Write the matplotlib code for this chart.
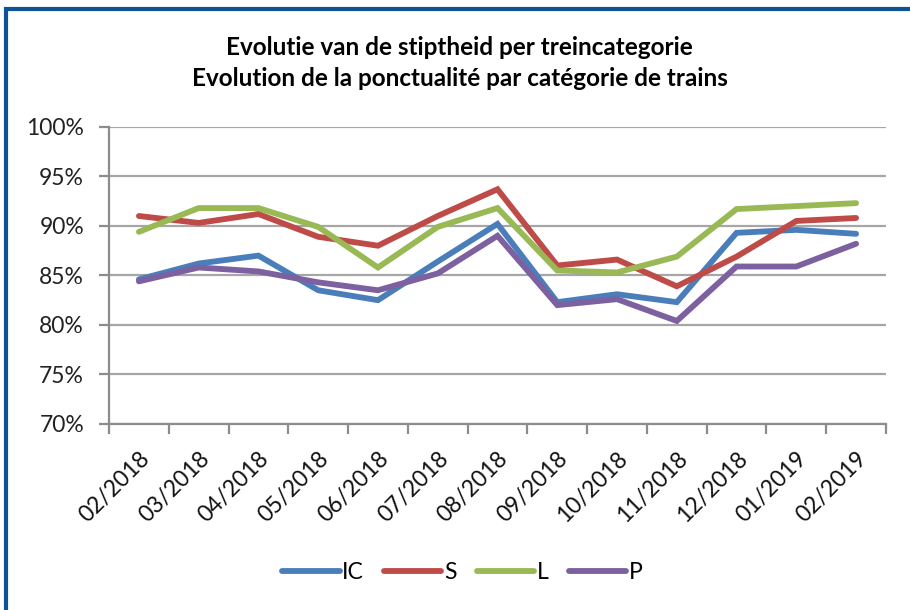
import matplotlib.pyplot as plt
from matplotlib.patches import Rectangle
from matplotlib.ticker import FixedLocator, NullFormatter

months = ['02/2018', '03/2018', '04/2018', '05/2018', '06/2018', '07/2018', '08/2018',
          '09/2018', '10/2018', '11/2018', '12/2018', '01/2019', '02/2019']

ic = [84.6, 86.2, 87.0, 83.5, 82.5, 86.4, 90.2, 82.3, 83.1, 82.3, 89.3, 89.6, 89.2]
s = [91.0, 90.3, 91.2, 88.9, 88.0, 91.0, 93.7, 86.0, 86.6, 83.9, 86.9, 90.5, 90.8]
l = [89.4, 91.8, 91.8, 89.9, 85.8, 89.9, 91.8, 85.5, 85.3, 86.9, 91.7, 92.0, 92.3]
p = [84.4, 85.8, 85.4, 84.3, 83.5, 85.2, 89.0, 82.0, 82.6, 80.4, 85.9, 85.9, 88.2]

series = [('IC', ic, '#4a7ebb'), ('S', s, '#be4b48'), ('L', l, '#98b954'), ('P', p, '#7d60a0')]

plt.rcParams['font.family'] = ['Lato', 'DejaVu Sans']

fig = plt.figure(figsize=(9.1, 6.1), dpi=100)
ax = fig.add_axes([0.1198, 0.305, 0.8538, 0.487])

x = list(range(len(months)))
for name, vals, col in series:
    ax.plot(x, vals, color=col, lw=4.2, label=name, solid_capstyle='round', solid_joinstyle='miter')

ax.set_xlim(-0.5, len(months) - 0.5)
ax.set_ylim(70, 100)
ax.set_yticks(range(70, 101, 5))
ax.set_yticklabels([f'{v}%' for v in range(70, 101, 5)], fontsize=16.5, color='#222222')
ax.yaxis.grid(True, color='#a6a6a6', lw=1.6)
ax.set_axisbelow(True)

ax.set_xticks(x)
ax.set_xticklabels(months, rotation=45, ha='right', rotation_mode='anchor', fontsize=16.5, color='#111111')
ax.tick_params(axis='x', which='major', length=0, pad=17)
ax.xaxis.set_minor_locator(FixedLocator([i - 0.5 for i in range(len(months) + 1)]))
ax.xaxis.set_minor_formatter(NullFormatter())
ax.tick_params(axis='x', which='minor', length=7, width=1.6, color='#8c8c8c', direction='out')
ax.tick_params(axis='y', length=7, width=1.6, color='#8c8c8c', pad=11)

for side in ['top', 'right']:
    ax.spines[side].set_visible(False)
for side in ['left', 'bottom']:
    ax.spines[side].set_color('#8c8c8c')
    ax.spines[side].set_linewidth(1.6)

fig.text(0.505, 0.922, 'Evolutie van de stiptheid per treincategorie', ha='center', va='center',
         fontsize=17.5, fontweight='bold')
fig.text(0.505, 0.872, 'Evolution de la ponctualité par catégorie de trains', ha='center', va='center',
         fontsize=17.5, fontweight='bold')

fig.legend(loc='center', bbox_to_anchor=(0.508, 0.062), ncol=4, frameon=False, fontsize=16.5,
           handlelength=2.5, columnspacing=0.9, handletextpad=0.1)

# blue chart frame
fig.patches.append(Rectangle((6 / 910, -0.1), 1.2, 1 - 9 / 610 + 0.1, transform=fig.transFigure,
                             fill=False, edgecolor='#0d5395', lw=3))

fig.savefig('out.png', dpi=100)
